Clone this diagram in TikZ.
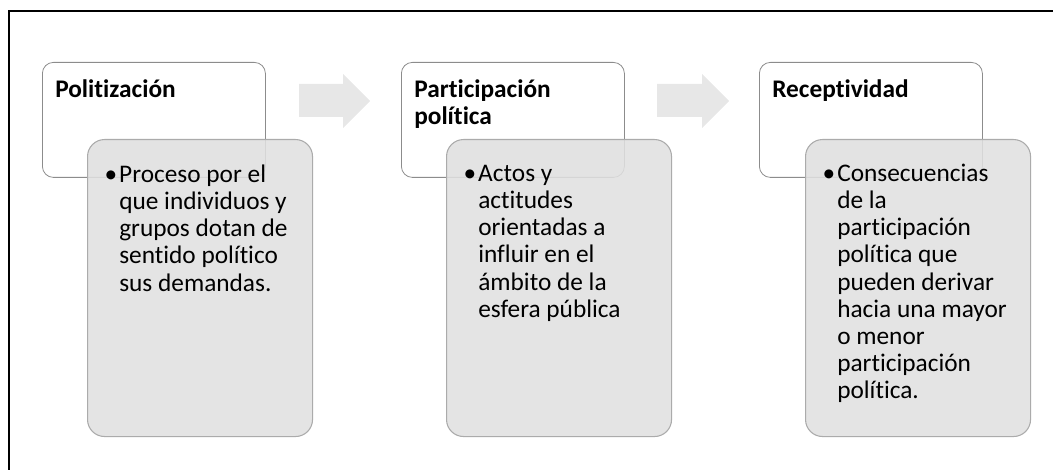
\documentclass[tikz,border=0pt]{standalone}
\usepackage{fontspec}
\setmainfont[Ligatures=NoCommon]{Carlito}
\usetikzlibrary{positioning}

\definecolor{marco}{HTML}{8C8C8C}
\definecolor{grisborde}{HTML}{ABABAB}
\definecolor{grisfondo}{HTML}{E0E0E0}
\definecolor{flechagris}{HTML}{E7E7E7}

\begin{document}
\begin{tikzpicture}[
    x=0.75pt, y=-0.75pt,
    etapa/.style = {draw=marco, line width=0.6pt, fill=white, rounded corners=8.25pt,
                    minimum width=167.25pt, minimum height=86.25pt, inner sep=0pt, anchor=north west},
    detalle/.style = {draw=grisborde, line width=0.8pt, fill=grisfondo, fill opacity=0.88,
                      rounded corners=12.75pt, minimum width=168.75pt, minimum height=222.75pt,
                      inner sep=0pt, anchor=north west},
    titulo/.style = {font=\fontsize{19}{20.4}\selectfont\bfseries, align=left, inner sep=0pt, anchor=north west},
    texto/.style = {font=\fontsize{19}{20.4}\selectfont, align=left, inner sep=0pt, anchor=north west},
    flecha/.style = {fill=flechagris}
  ]

  \clip (0,0) rectangle (1053,470);
  \draw[line width=1.5pt] (9,490) -- (9,11) -- (1070,11);

  % Nodes 
  \node[etapa] (etapa1) at (42,62) {};
  \node[etapa] (etapa2) at (401,62) {};
  \node[etapa] (etapa3) at (759,62) {};

  \node[titulo] (tit1) at (55,78) {\strut Politización};
  \node[titulo] (tit2) at (414,78) {\strut Participación\\política};
  \node[titulo] (tit3) at (772,78) {\strut Receptividad};

  \node[detalle] (det1) at (87,139) {};
  \node[detalle] (det2) at (446,139) {};
  \node[detalle] (det3) at (805,139) {};

  \node[texto] (txt1) at (119,163) {\strut\llap{•\hspace{1.5pt}}Proceso por el\\que individuos y\\grupos dotan de\\sentido político\\sus demandas.};
  \node[texto] (txt2) at (478,162) {\strut\llap{•\hspace{1.5pt}}Actos y\\actitudes\\orientadas a\\influir en el\\ámbito de la\\esfera pública};
  \node[texto] (txt3) at (837,162) {\strut\llap{•\hspace{1.5pt}}Consecuencias\\de la\\participación\\política que\\pueden derivar\\hacia una mayor\\o menor\\participación\\política.};

  % arrows
  \fill[flecha] (299,84) -- (343,84) -- (343,74) -- (370,101) -- (343,128) -- (343,117) -- (299,117) -- cycle;
  \fill[flecha] (657,84) -- (702,84) -- (702,74) -- (729,101) -- (702,128) -- (702,117) -- (657,117) -- cycle;

\end{tikzpicture}
\end{document}
